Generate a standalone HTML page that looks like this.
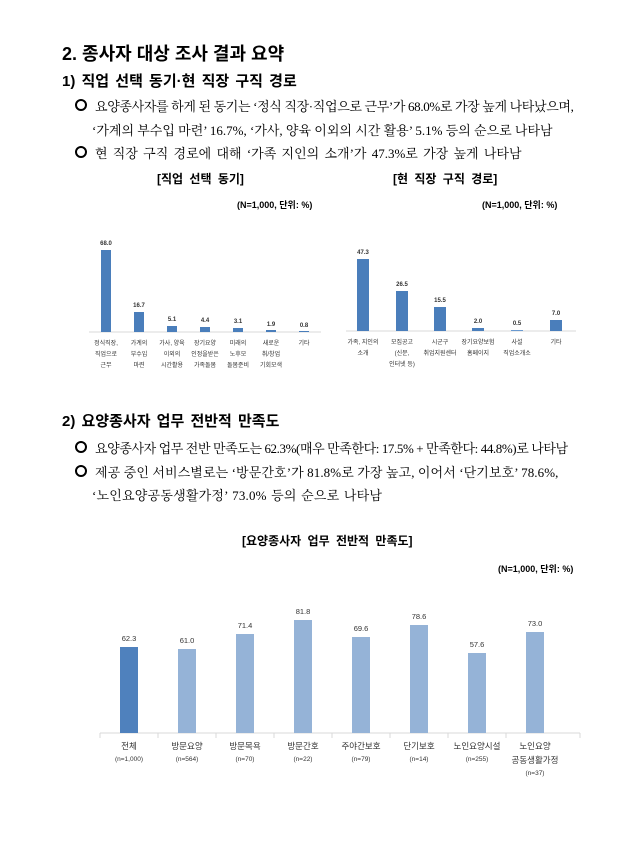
<!DOCTYPE html>
<html><head><meta charset="utf-8"><style>
body{margin:0;background:#fff;width:643px;height:843px;position:relative;overflow:hidden;font-family:"Liberation Sans","Noto Sans CJK KR",sans-serif;color:#000}
.t{position:absolute;white-space:nowrap}
.h1{font-size:18px;font-weight:bold}
.h2{font-size:15px;font-weight:bold}
.b{font-size:13px;font-family:"Liberation Serif","Noto Serif CJK SC",serif}
.ct{font-size:12px;font-weight:bold;word-spacing:3px}
.n{font-size:9px;font-weight:bold}
.c{display:inline-block;width:8px;height:8px;border:2px solid #000;border-radius:50%;margin-right:8px;vertical-align:0px}
svg{position:absolute;left:0;top:0}
svg text{font-family:"Liberation Sans","Noto Sans CJK KR",sans-serif;fill:#333}
</style></head><body>
<div class="t h1" style="left:62px;top:40px">2. 종사자 대상 조사 결과 요약</div>
<div class="t h2" style="left:62px;top:70px;word-spacing:2px">1) 직업 선택 동기·현 직장 구직 경로</div>
<div class="t b" style="left:75px;top:96px;letter-spacing:-0.35px"><span class="c"></span>요양종사자를 하게 된 동기는 ‘정식 직장·직업으로 근무’가 68.0%로 가장 높게 나타났으며,</div>
<div class="t b" style="left:92px;top:120px">‘가계의 부수입 마련’ 16.7%, ‘가사, 양육 이외의 시간 활용’ 5.1% 등의 순으로 나타남</div>
<div class="t b" style="left:75px;top:143px;word-spacing:2px"><span class="c"></span>현 직장 구직 경로에 대해 ‘가족 지인의 소개’가 47.3%로 가장 높게 나타남</div>
<div class="t ct" style="left:157px;top:170px">[직업 선택 동기]</div>
<div class="t ct" style="left:393px;top:170px">[현 직장 구직 경로]</div>
<div class="t n" style="left:237px;top:198px">(N=1,000, 단위: %)</div>
<div class="t n" style="left:482px;top:198px">(N=1,000, 단위: %)</div>

<div class="t h2" style="left:62px;top:410px;word-spacing:2px">2) 요양종사자 업무 전반적 만족도</div>
<div class="t b" style="left:75px;top:438px;letter-spacing:-0.4px"><span class="c"></span>요양종사자 업무 전반 만족도는 62.3%(매우 만족한다: 17.5% + 만족한다: 44.8%)로 나타남</div>
<div class="t b" style="left:75px;top:462px;letter-spacing:0.1px"><span class="c"></span>제공 중인 서비스별로는 ‘방문간호’가 81.8%로 가장 높고, 이어서 ‘단기보호’ 78.6%,</div>
<div class="t b" style="left:92px;top:485px;word-spacing:1px;letter-spacing:0.2px">‘노인요양공동생활가정’ 73.0% 등의 순으로 나타남</div>
<div class="t ct" style="left:242px;top:532px">[요양종사자 업무 전반적 만족도]</div>
<div class="t n" style="left:498px;top:562px">(N=1,000, 단위: %)</div>

<svg width="643" height="843">
<g font-size="6" text-anchor="middle">
<line x1="89" y1="332" x2="321" y2="332" stroke="#d9d9d9"/>
<rect x="101" y="250" width="10" height="82" fill="#4a7ebb"/><text x="106" y="245" font-weight="bold">68.0</text>
<rect x="134" y="312" width="10" height="20" fill="#4a7ebb"/><text x="139" y="307" font-weight="bold">16.7</text>
<rect x="167" y="326" width="10" height="6" fill="#4a7ebb"/><text x="172" y="321" font-weight="bold">5.1</text>
<rect x="200" y="327" width="10" height="5" fill="#4a7ebb"/><text x="205" y="322" font-weight="bold">4.4</text>
<rect x="233" y="328" width="10" height="4" fill="#4a7ebb"/><text x="238" y="323" font-weight="bold">3.1</text>
<rect x="266" y="330" width="10" height="2" fill="#4a7ebb"/><text x="271" y="326" font-weight="bold">1.9</text>
<rect x="299" y="331" width="10" height="1" fill="#4a7ebb"/><text x="304" y="327" font-weight="bold">0.8</text>
<text x="106" y="345">정식직장,</text><text x="106" y="356">직업으로</text><text x="106" y="367">근무</text>
<text x="139" y="345">가계의</text><text x="139" y="356">부수입</text><text x="139" y="367">마련</text>
<text x="172" y="345">가사, 양육</text><text x="172" y="356">이외의</text><text x="172" y="367">시간활용</text>
<text x="205" y="345">장기요양</text><text x="205" y="356">인정을받은</text><text x="205" y="367">가족돌봄</text>
<text x="238" y="345">미래의</text><text x="238" y="356">노후모</text><text x="238" y="367">돌봄준비</text>
<text x="271" y="345">새로운</text><text x="271" y="356">취/창업</text><text x="271" y="367">기회모색</text>
<text x="304" y="345">기타</text>

<line x1="346" y1="331" x2="576" y2="331" stroke="#d9d9d9"/>
<rect x="357" y="259" width="12" height="72" fill="#4a7ebb"/><text x="363" y="254" font-weight="bold">47.3</text>
<rect x="396" y="291" width="12" height="40" fill="#4a7ebb"/><text x="402" y="286" font-weight="bold">26.5</text>
<rect x="434" y="307" width="12" height="24" fill="#4a7ebb"/><text x="440" y="302" font-weight="bold">15.5</text>
<rect x="472" y="328" width="12" height="3" fill="#4a7ebb"/><text x="478" y="323" font-weight="bold">2.0</text>
<rect x="511" y="330" width="12" height="1" fill="#6a9ad0"/><text x="517" y="325" font-weight="bold">0.5</text>
<rect x="550" y="320" width="12" height="11" fill="#4a7ebb"/><text x="556" y="315" font-weight="bold">7.0</text>
<text x="363" y="344">가족, 지인의</text><text x="363" y="355">소개</text>
<text x="402" y="344">모집공고</text><text x="402" y="355">(신문,</text><text x="402" y="366">인터넷 등)</text>
<text x="440" y="344">시군구</text><text x="440" y="355">취업지원센터</text>
<text x="478" y="344">장기요양보험</text><text x="478" y="355">홈페이지</text>
<text x="517" y="344">사설</text><text x="517" y="355">직업소개소</text>
<text x="556" y="344">기타</text>
</g>

<g font-size="7.5" text-anchor="middle">
<line x1="100" y1="733" x2="580" y2="733" stroke="#d9d9d9"/>
<g stroke="#d9d9d9"><line x1="100" y1="733" x2="100" y2="738"/><line x1="158" y1="733" x2="158" y2="738"/><line x1="216" y1="733" x2="216" y2="738"/><line x1="274" y1="733" x2="274" y2="738"/><line x1="332" y1="733" x2="332" y2="738"/><line x1="390" y1="733" x2="390" y2="738"/><line x1="448" y1="733" x2="448" y2="738"/><line x1="506" y1="733" x2="506" y2="738"/><line x1="580" y1="733" x2="580" y2="738"/></g>
<rect x="120" y="647" width="18" height="86" fill="#4f81bd"/><text x="129" y="641">62.3</text>
<rect x="178" y="649" width="18" height="84" fill="#95b3d7"/><text x="187" y="643">61.0</text>
<rect x="236" y="634" width="18" height="99" fill="#95b3d7"/><text x="245" y="628">71.4</text>
<rect x="294" y="620" width="18" height="113" fill="#95b3d7"/><text x="303" y="614">81.8</text>
<rect x="352" y="637" width="18" height="96" fill="#95b3d7"/><text x="361" y="631">69.6</text>
<rect x="410" y="625" width="18" height="108" fill="#95b3d7"/><text x="419" y="619">78.6</text>
<rect x="468" y="653" width="18" height="80" fill="#95b3d7"/><text x="477" y="647">57.6</text>
<rect x="526" y="632" width="18" height="101" fill="#95b3d7"/><text x="535" y="626">73.0</text>
<g font-size="8.5"><text x="129" y="749">전체</text><text x="187" y="749">방문요양</text><text x="245" y="749">방문목욕</text><text x="303" y="749">방문간호</text><text x="361" y="749">주야간보호</text><text x="419" y="749">단기보호</text><text x="477" y="749">노인요양시설</text><text x="535" y="749">노인요양</text><text x="535" y="763">공동생활가정</text></g>
<g font-size="6.5"><text x="129" y="761">(n=1,000)</text><text x="187" y="761">(n=564)</text><text x="245" y="761">(n=70)</text><text x="303" y="761">(n=22)</text><text x="361" y="761">(n=79)</text><text x="419" y="761">(n=14)</text><text x="477" y="761">(n=255)</text><text x="535" y="775">(n=37)</text></g>
</g>
</svg>
</body></html>
